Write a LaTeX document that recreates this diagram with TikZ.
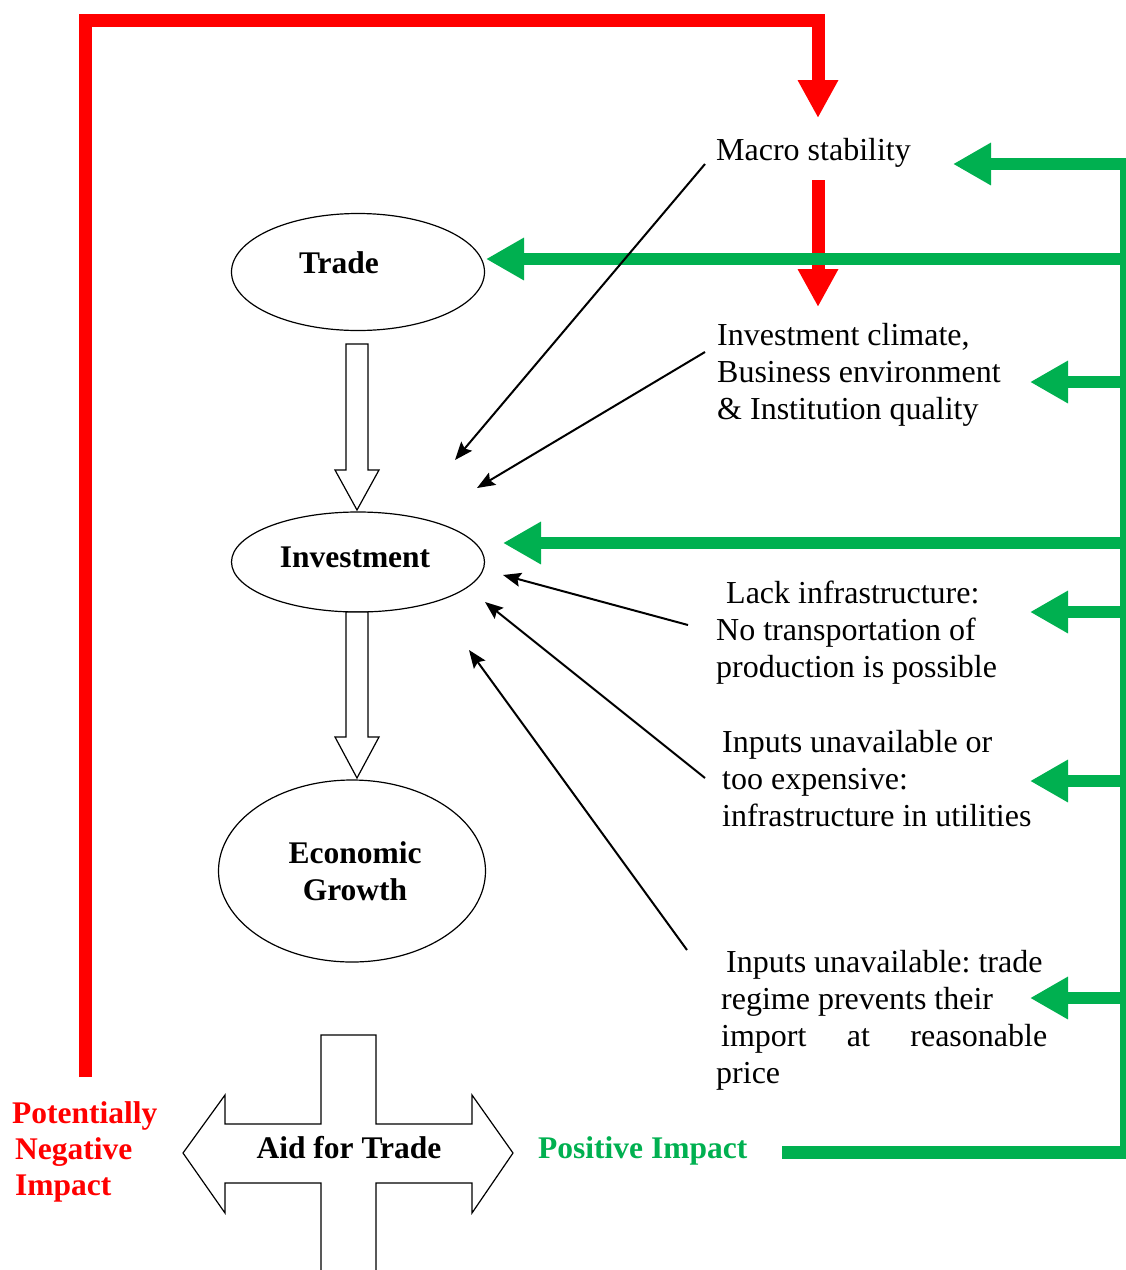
\documentclass[tikz,border=0pt]{standalone}
\usepackage{fontspec}
\setmainfont{Liberation Serif}
\usetikzlibrary{arrows.meta,shapes.geometric,calc}
\definecolor{agreen}{RGB}{0,176,80}
\definecolor{ared}{RGB}{255,0,0}
\frenchspacing
\begin{document}
\begin{tikzpicture}[x=1pt,y=-1pt,
  txt/.style={inner sep=0pt, font=\fontsize{32}{37}\selectfont, align=left},
  btxt/.style={inner sep=0pt, font=\fontsize{31.5}{37}\selectfont\bfseries},
  ell/.style={draw, ellipse, line width=1.2pt, inner sep=0pt},
  garr/.style={draw=agreen, line width=12pt, -{Triangle[length=38pt,width=40pt]}},
  bus/.style={draw=agreen, line width=6pt},
  rarr/.style={draw=ared, line width=13pt, line join=miter, -{Triangle[length=38pt,width=38pt]}},
  barr/.style={line width=2pt, -{Stealth[length=18pt,width=14pt,inset=3pt]}},
  hollow/.style={draw, line width=1.2pt, fill=white, line join=miter}]
\useasboundingbox (0,0) rectangle (1126,1270);
\clip (0,0) rectangle (1126,1270);

% ellipses
\node[ell, minimum width=253pt, minimum height=117pt] (trade) at (358,272) {};
\node[ell, minimum width=253pt, minimum height=100pt] (invest) at (358,562) {};
\node[ell, minimum width=267pt, minimum height=182pt] (growth) at (352,871) {};
\node[btxt, anchor=base] (tradetxt) at (339,273) {Trade};
\node[btxt, anchor=base] (investtxt) at (355,567) {Investment};
\node[btxt, anchor=north, align=center] (growthtxt) at (355,841) {Economic\\Growth};

% hollow block arrows
\coordinate (b1s) at (357,344); \coordinate (b1t) at (357,510);
\draw[hollow] ($(b1s)+(-11,0)$) -- ($(b1t)+(-11,-40)$) -- ($(b1t)+(-22,-40)$) -- (b1t)
  -- ($(b1t)+(22,-40)$) -- ($(b1t)+(11,-40)$) -- ($(b1s)+(11,0)$) -- cycle;
\coordinate (b2s) at (357,612); \coordinate (b2t) at (357,778);
\draw[hollow] ($(b2s)+(-11,0)$) -- ($(b2t)+(-11,-41)$) -- ($(b2t)+(-22,-41)$) -- (b2t)
  -- ($(b2t)+(22,-41)$) -- ($(b2t)+(11,-41)$) -- ($(b2s)+(11,0)$) -- cycle;

% Aid for Trade cross
\draw[hollow] (321,1035) -- (376,1035) -- (376,1124) -- (472,1124) -- (472,1095) -- (513,1153)
  -- (472,1213) -- (472,1183) -- (376,1183) -- (376,1300) -- (321,1300) -- (321,1183)
  -- (225,1183) -- (225,1213) -- (183,1153) -- (225,1095) -- (225,1124) -- (321,1124) -- cycle;
\node[btxt, anchor=base] (aft) at (349,1158) {Aid for Trade};

% right-hand texts
\node[txt, anchor=base west] (macro) at (716,160) {Macro stability};
\node[txt, anchor=north west] (climate) at (717,323) {Investment climate,\\Business environment\\\&~Institution quality};
\node[txt, anchor=north west] (lack) at (716,581) {\hspace*{10pt}Lack infrastructure:\\No transportation of\\production is possible};
\node[txt, anchor=north west] (inputs) at (722,730) {Inputs unavailable or\\too expensive:\\infrastructure in utilities};
\node[txt, anchor=north west] (regime) at (716,950) {\hspace*{10pt}Inputs unavailable: trade\\\hspace*{5pt}regime prevents their\\\hspace*{5pt}\makebox[326pt][s]{import at reasonable}\\price};

% impact labels
\node[btxt, text=ared, anchor=north west, align=left, font=\fontsize{31.5}{36}\selectfont\bfseries] (neg) at (12,1101) {Potentially\\\hspace*{3pt}Negative\\\hspace*{3pt}Impact};
\node[btxt, text=agreen, anchor=base west] (pos) at (538,1158) {Positive Impact};

% red connectors
\coordinate (rstart) at (85,1077);
\coordinate (rtip1) at (818,118);
\draw[rarr] (rstart) |- (818,20) -- (rtip1);
\coordinate (r2s) at (818,180); \coordinate (r2t) at (818,307);
\draw[rarr] (r2s) -- (r2t);

% green bus and arrows
\coordinate (busT) at (1123,158); \coordinate (busB) at (1123,1152);
\draw[bus] (busT) -- (busB);
\coordinate (posS) at (782,1152); \coordinate (posE) at (1126,1152);
\draw[draw=agreen, line width=13pt] (posS) -- (posE);
\coordinate (gm) at (1126,164); \coordinate (gmt) at (953,164);
\coordinate (gt) at (1126,259); \coordinate (gtt) at (486,259);
\coordinate (gc) at (1126,382); \coordinate (gct) at (1030,382);
\coordinate (gi) at (1126,543); \coordinate (git) at (503,543);
\coordinate (gl) at (1126,612); \coordinate (glt) at (1030,612);
\coordinate (gu) at (1126,781); \coordinate (gut) at (1030,781);
\coordinate (gr) at (1126,998); \coordinate (grt) at (1030,998);
\draw[garr] (gm) -- (gmt);
\draw[garr] (gt) -- (gtt);
\draw[garr] (gc) -- (gct);
\draw[garr] (gi) -- (git);
\draw[garr] (gl) -- (glt);
\draw[garr] (gu) -- (gut);
\draw[garr] (gr) -- (grt);

% black influence arrows
\coordinate (k1s) at (705,164); \coordinate (k1t) at (455,460);
\coordinate (k2s) at (705,352); \coordinate (k2t) at (477,488);
\coordinate (k3s) at (688,625); \coordinate (k3t) at (503,575);
\coordinate (k4s) at (705,778); \coordinate (k4t) at (485,602);
\coordinate (k5s) at (687,950); \coordinate (k5t) at (469,650);
\draw[barr] (k1s) -- (k1t);
\draw[barr] (k2s) -- (k2t);
\draw[barr] (k3s) -- (k3t);
\draw[barr] (k4s) -- (k4t);
\draw[barr] (k5s) -- (k5t);
\end{tikzpicture}
\end{document}
